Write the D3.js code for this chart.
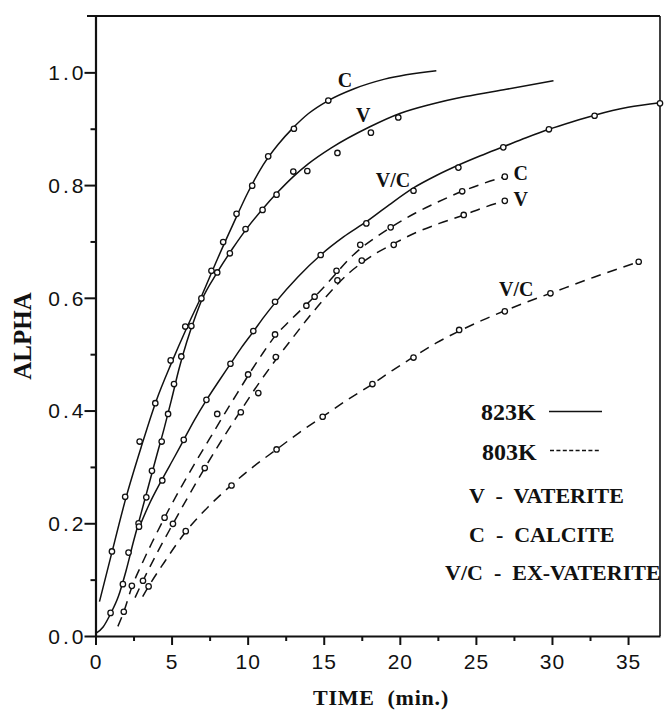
<!DOCTYPE html>
<html>
<head>
<meta charset="utf-8">
<script src="https://cdn.jsdelivr.net/npm/d3@7"></script>
<style>
  body { margin: 0; background: #fff; }
  svg { display: block; }
  .tick-label { font-family: "Liberation Sans", Arial, sans-serif; font-size: 21px; fill: #111; }
  .serif { font-family: "Liberation Serif", "Times New Roman", serif; font-weight: bold; fill: #111; }
</style>
</head>
<body>
<svg id="chart" width="664" height="715"></svg>
<script>
// Tick values
const xMajorTicks = [0, 5, 10, 15, 20, 25, 30, 35];
const xMinorTicks = [2.5, 7.5, 12.5, 17.5, 22.5, 27.5, 32.5];
const yMajorTicks = [0, 0.2, 0.4, 0.6, 0.8, 1.0];
const yMinorTicks = [0.1, 0.3, 0.5, 0.7, 0.9];

// 823 K – measured points [time (min), alpha]
const calcite823Points = [[1.08,0.150],[1.95,0.247],[2.9,0.345],[3.93,0.413],[4.94,0.489],[5.9,0.549],[6.96,0.599],[7.62,0.648],[8.39,0.699],[9.27,0.749],[10.3,0.799],[11.35,0.851],[13.04,0.900],[15.3,0.950]];
const vaterite823Points = [[0.99,0.041],[1.8,0.092],[2.17,0.148],[2.83,0.2],[3.34,0.246],[3.71,0.293],[4.35,0.345],[4.77,0.394],[5.16,0.447],[5.64,0.496],[6.3,0.55],[8.0,0.645],[8.83,0.679],[9.86,0.722],[10.98,0.756],[11.9,0.783],[13.0,0.824],[13.92,0.825],[15.9,0.857],[18.1,0.893],[19.9,0.920]];
const exVaterite823Points = [[2.86,0.194],[4.39,0.276],[5.8,0.348],[7.29,0.419],[8.87,0.483],[10.37,0.541],[11.8,0.593],[14.8,0.676],[17.8,0.732],[20.9,0.790],[23.85,0.831],[26.8,0.867],[29.8,0.899],[32.8,0.923],[37.1,0.945]];

// 823 K – fitted curves
const calcite823Curve = [[0.26,0.061],[1,0.14],[2,0.245],[3,0.335],[4,0.418],[5,0.485],[6,0.547],[7,0.605],[8,0.668],[9,0.728],[10,0.786],[11,0.835],[12,0.872],[13,0.902],[14,0.927],[15.3,0.95],[17,0.971],[19,0.988],[22.4,1.003]];
const vaterite823Curve = [[0,0.004],[0.5,0.016],[1,0.04],[1.5,0.07],[2,0.115],[2.5,0.168],[3,0.218],[3.5,0.268],[4,0.318],[4.5,0.367],[5,0.42],[5.5,0.475],[6,0.522],[6.5,0.562],[7,0.597],[8,0.645],[9,0.687],[10,0.725],[11,0.758],[12,0.788],[13,0.815],[14,0.838],[15.5,0.866],[18,0.903],[20,0.927],[22,0.943],[24.3,0.957],[27,0.97],[30.1,0.985]];
const exVaterite823Curve = [[2.8,0.188],[3.5,0.232],[4.4,0.279],[5.2,0.318],[5.8,0.348],[6.5,0.383],[7.3,0.419],[8.1,0.452],[8.9,0.484],[9.6,0.512],[10.4,0.541],[11.1,0.567],[11.8,0.591],[13.3,0.637],[14.8,0.676],[16.3,0.708],[17.8,0.735],[19.3,0.765],[20.9,0.795],[22.4,0.817],[23.9,0.836],[25.3,0.852],[26.8,0.868],[28.3,0.884],[29.8,0.899],[31.3,0.912],[32.8,0.924],[35,0.938],[37.1,0.946]];

// 803 K – measured points
const calcite803Points = [[1.86,0.043],[2.39,0.089],[4.54,0.210],[8.0,0.394],[10.03,0.464],[11.8,0.535],[13.86,0.586],[14.4,0.602],[15.84,0.648],[17.4,0.694],[19.4,0.725],[24.1,0.789],[26.9,0.815]];
const vaterite803Points = [[3.12,0.098],[5.09,0.199],[7.18,0.298],[9.55,0.397],[10.7,0.431],[11.85,0.495],[15.9,0.631],[17.5,0.666],[19.6,0.694],[24.2,0.747],[26.9,0.772]];
const exVaterite803Points = [[3.49,0.088],[5.93,0.186],[8.94,0.267],[11.9,0.331],[14.93,0.389],[18.2,0.447],[20.9,0.494],[23.9,0.543],[26.9,0.576],[29.9,0.608],[35.7,0.664]];

// 803 K – fitted curves
const calcite803Curve = [[1.47,0.017],[1.86,0.043],[2.39,0.087],[3,0.125],[3.7,0.165],[4.54,0.21],[5.5,0.258],[6.5,0.305],[7.5,0.35],[8.5,0.395],[9.3,0.43],[10.03,0.462],[10.9,0.498],[11.8,0.532],[12.8,0.56],[13.86,0.588],[14.8,0.613],[15.84,0.644],[16.6,0.667],[17.4,0.687],[18.4,0.707],[19.4,0.725],[21,0.75],[22.5,0.77],[24.1,0.789],[25.5,0.803],[26.9,0.815]];
const vaterite803Curve = [[2.6,0.068],[3.12,0.098],[4,0.145],[5.09,0.199],[6,0.243],[7.18,0.298],[8.4,0.352],[9.55,0.4],[10.7,0.447],[11.85,0.49],[12.9,0.527],[14,0.565],[15,0.597],[15.9,0.624],[16.7,0.645],[17.5,0.662],[18.5,0.68],[19.6,0.696],[21,0.715],[22.6,0.732],[24.2,0.747],[25.5,0.76],[26.9,0.772]];
const exVaterite803Curve = [[3.1,0.07],[3.49,0.088],[4.5,0.13],[5.93,0.185],[7.4,0.229],[8.94,0.268],[10.4,0.301],[11.9,0.331],[13.4,0.361],[14.93,0.389],[16.5,0.418],[18.2,0.447],[19.5,0.471],[20.9,0.495],[22.4,0.52],[23.9,0.541],[25.4,0.56],[26.9,0.577],[28.4,0.593],[29.9,0.608],[32.8,0.637],[35.7,0.664]];

const svg = d3.select("#chart");
const x = d3.scaleLinear().domain([0, 37.1]).range([95.5, 660]);
const y = d3.scaleLinear().domain([0, 1.1]).range([636, 16]);

const series = [
  { curve: calcite823Curve, points: calcite823Points, dashed: false, label: "C", at: [16.4, 0.974] },
  { curve: vaterite823Curve, points: vaterite823Points, dashed: false, label: "V", at: [17.6, 0.912] },
  { curve: exVaterite823Curve, points: exVaterite823Points, dashed: false, label: "V/C", at: [19.55, 0.797] },
  { curve: calcite803Curve, points: calcite803Points, dashed: true, label: "C", at: [27.95, 0.809] },
  { curve: vaterite803Curve, points: vaterite803Points, dashed: true, label: "V", at: [27.95, 0.763] },
  { curve: exVaterite803Curve, points: exVaterite803Points, dashed: true, label: "V/C", at: [27.65, 0.603] }
];

// Frame: top and right borders
svg.append("line").attr("x1", 87).attr("x2", 660).attr("y1", y(1.1)).attr("y2", y(1.1))
  .attr("stroke", "#111").attr("stroke-width", 2.2);
svg.append("line").attr("x1", 660).attr("x2", 660).attr("y1", y(1.1)).attr("y2", y(0))
  .attr("stroke", "#111").attr("stroke-width", 1.6);

// Bottom axis
const xAxis = svg.append("g").attr("transform", `translate(0,${y(0)})`)
  .call(d3.axisBottom(x).tickValues(xMajorTicks).tickSize(9).tickSizeOuter(0).tickFormat(d3.format("d")));
svg.append("g").attr("transform", `translate(0,${y(0)})`)
  .call(d3.axisBottom(x).tickValues(xMinorTicks).tickSize(5).tickSizeOuter(0).tickFormat(""))
  .call(g => g.select(".domain").remove());

// Left axis
const yAxis = svg.append("g").attr("transform", `translate(${x(0)},0)`)
  .call(d3.axisLeft(y).tickValues(yMajorTicks).tickSize(11).tickSizeOuter(0).tickFormat(d3.format(".1f")));
svg.append("g").attr("transform", `translate(${x(0)},0)`)
  .call(d3.axisLeft(y).tickValues(yMinorTicks).tickSize(5).tickSizeOuter(0).tickFormat(""))
  .call(g => g.select(".domain").remove());

svg.selectAll(".domain").attr("stroke", "#111").attr("stroke-width", 2.2);
svg.selectAll(".tick line").attr("stroke", "#111").attr("stroke-width", 2);

xAxis.selectAll(".tick text").attr("class", "tick-label").attr("y", 18).attr("dy", "0.71em")
  .attr("fill", "#111").style("letter-spacing", "1px");
yAxis.selectAll(".tick text").attr("class", "tick-label").attr("x", -9).attr("dy", "0.35em")
  .attr("fill", "#111").style("letter-spacing", "3px");
svg.selectAll(".tick text").attr("font-family", null).attr("font-size", null);

// Curves
const line = d3.line().x(d => x(d[0])).y(d => y(d[1])).curve(d3.curveMonotoneX);
const plot = svg.append("g");
series.forEach(s => {
  plot.append("path").datum(s.curve).attr("d", line)
    .attr("fill", "none").attr("stroke", "#111").attr("stroke-width", 1.5)
    .attr("stroke-dasharray", s.dashed ? "10,7" : null);
});

// Measured points
series.forEach(s => {
  plot.append("g").selectAll("circle").data(s.points).join("circle")
    .attr("cx", d => x(d[0])).attr("cy", d => y(d[1])).attr("r", 2.7)
    .attr("fill", "#fff").attr("stroke", "#111").attr("stroke-width", 1.3);
});

// Curve labels
series.forEach(s => {
  svg.append("text").attr("class", "serif")
    .attr("x", x(s.at[0])).attr("y", y(s.at[1]))
    .attr("text-anchor", "middle").attr("font-size", 20)
    .text(s.label);
});

// Legend
const legend = svg.append("g");
legend.append("text").attr("class", "serif").attr("x", 481).attr("y", 420).attr("font-size", 24).text("823K");
legend.append("line").attr("x1", 549).attr("x2", 602).attr("y1", 411.5).attr("y2", 411.5)
  .attr("stroke", "#111").attr("stroke-width", 1.4);
legend.append("text").attr("class", "serif").attr("x", 482).attr("y", 460).attr("font-size", 24).text("803K");
legend.append("line").attr("x1", 550).attr("x2", 600).attr("y1", 450.5).attr("y2", 450.5)
  .attr("stroke", "#111").attr("stroke-width", 1.4).attr("stroke-dasharray", "4,2.4");

const mineralLines = [
  { text: "V  -  VATERITE", x: 469, y: 503 },
  { text: "C  -  CALCITE", x: 469, y: 542 },
  { text: "V/C  -  EX-VATERITE", x: 445, y: 580 }
];
legend.selectAll("text.mineral").data(mineralLines).join("text")
  .attr("class", "serif mineral").attr("x", d => d.x).attr("y", d => d.y)
  .attr("font-size", 22).style("white-space", "pre").attr("xml:space", "preserve")
  .text(d => d.text);

// Axis titles
svg.append("text").attr("class", "serif").attr("font-size", 25)
  .attr("text-anchor", "middle")
  .attr("transform", `translate(31,336) rotate(-90)`)
  .text("ALPHA");
svg.append("text").attr("class", "serif").attr("font-size", 22)
  .attr("text-anchor", "middle").attr("x", 381).attr("y", 705)
  .style("white-space", "pre").style("letter-spacing", "0.8px")
  .text("TIME  (min.)");
</script>
</body>
</html>
